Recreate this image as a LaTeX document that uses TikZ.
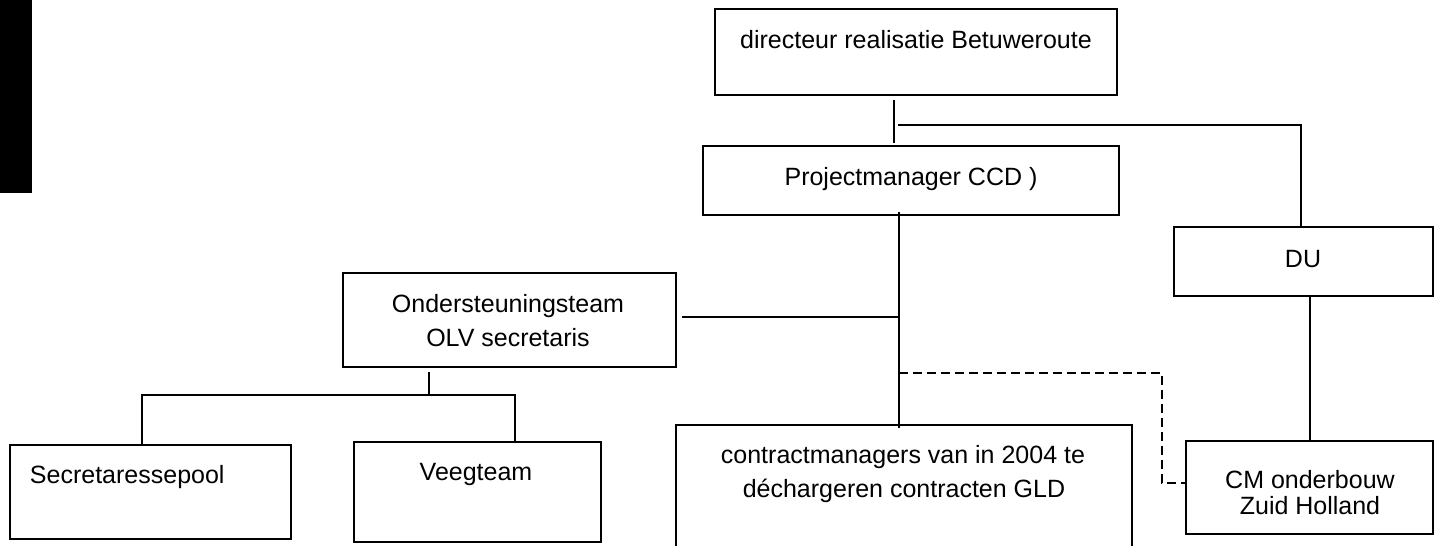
\documentclass[tikz,border=0pt]{standalone}
\usepackage{fontspec}
\setmainfont{Liberation Sans}
\usetikzlibrary{calc}
\begin{document}
\begin{tikzpicture}[x=0.5pt,y=-0.5pt,
  box/.style={draw=black, line width=1.1pt, inner sep=0pt, outer sep=0pt, anchor=north west},
  lbl/.style={inner sep=0pt, outer sep=0pt, anchor=base, font=\fontsize{12.5}{15}\selectfont},
  lblw/.style={lbl, anchor=base west},
  conn/.style={line width=1pt, draw=black},
  dashconn/.style={line width=1pt, draw=black, dash pattern=on 4.5pt off 2.5pt}]
\clip (0,0) rectangle (1442,546);
\fill[black] (0,0) rectangle (32,193);
% boxes
\node[box, minimum width=201pt, minimum height=43pt] (dir) at (715,9) {};
\node[box, minimum width=208pt, minimum height=34.5pt] (pm) at (703,146) {};
\node[box, minimum width=129.5pt, minimum height=34.5pt] (du) at (1174,227) {};
\node[box, minimum width=166.5pt, minimum height=47pt] (ond) at (343,273) {};
\node[box, minimum width=140.5pt, minimum height=47pt] (sec) at (10,445) {};
\node[box, minimum width=123.5pt, minimum height=50pt] (veeg) at (354,442) {};
\node[box, minimum width=228pt, minimum height=67.5pt] (con) at (676,425) {};
\node[box, minimum width=123.5pt, minimum height=46.5pt] (cm) at (1186,441) {};
% texts
\node[lbl] (tdir) at (916,48) {directeur realisatie Betuweroute};
\node[lbl] (tpm) at (911,185) {Projectmanager CCD )};
\node[lbl] (tdu) at (1303,267) {DU};
\node[lbl] (tond1) at (508,312) {Ondersteuningsteam};
\node[lbl] (tond2) at (508,346) {OLV secretaris};
\node[lblw] (tsec) at (30,483) {Secretaressepool};
\node[lbl] (tveeg) at (476,480) {Veegteam};
\node[lbl] (tcon1) at (903,463) {contractmanagers van in 2004 te};
\node[lbl] (tcon2) at (904,497) {déchargeren contracten GLD};
\node[lbl] (tcm1) at (1310,488) {CM onderbouw};
\node[lbl] (tcm2) at (1310,514) {Zuid Holland};
% helper coordinates
\coordinate (a) at (894,0);
\coordinate (b) at (898,125);
\coordinate (t) at (899,0);
\coordinate (h) at (0,317);
\coordinate (j) at (429,395);
\coordinate (s) at (142,0);
\coordinate (v) at (515,0);
\coordinate (dv) at (1162,0);
\coordinate (dh1) at (0,373);
\coordinate (dh2) at (0,483);
\coordinate (duline) at (1301,0);
% connectors
\draw[conn] ([yshift=-2.5pt]dir.south -| a) -- ([yshift=1.5pt]pm.north -| a);
\draw[conn] (b) -| (du.north -| duline);
\draw[conn] ([yshift=1.5pt]pm.south -| t) -- ([yshift=-1.5pt]con.north -| t);
\draw[conn] ([xshift=3pt]ond.east |- h) -- (t |- h);
\draw[conn] ([yshift=-2.5pt]ond.south -| j) -- (j);
\draw[conn] (sec.north -| s) |- (j) -| (veeg.north -| v);
\draw[conn] (du.south -| cm.north) -- (cm.north);
\draw[dashconn] (t |- dh1) -- (dv |- dh1) -- (dv |- dh2) -- (cm.west |- dh2);
\end{tikzpicture}
\end{document}
